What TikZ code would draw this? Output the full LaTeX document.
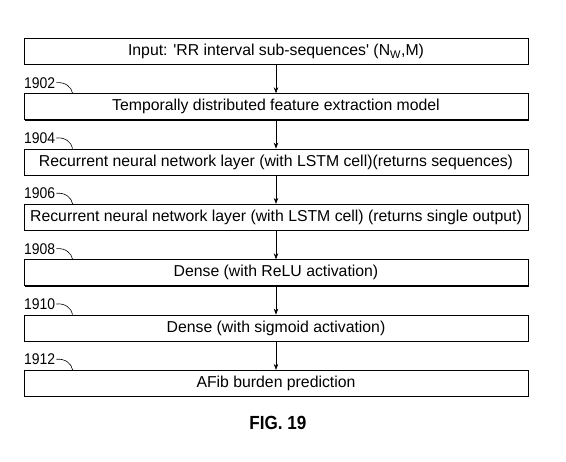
\documentclass[tikz,border=0pt]{standalone}
\usepackage{fontspec}
\setmainfont{Liberation Sans}
\newfontfamily\narrowsans{Liberation Sans}[FakeStretch=0.9]
\usetikzlibrary{arrows.meta,shadows}

\tikzset{
  layerbox/.style={draw, fill=white, line width=0.8pt, minimum width=504pt,
    minimum height=26pt, inner sep=0pt, font=\fontsize{15.8}{17}\selectfont,
    drop shadow={shadow xshift=1.2pt, shadow yshift=-1.2pt, opacity=1, fill=black}},
  refnum/.style={anchor=west, inner sep=0pt, font=\narrowsans\fontsize{15.5}{17}\selectfont},
  flow/.style={-{Stealth[length=6pt,width=4.5pt]}, line width=0.6pt},
  hook/.style={line width=0.6pt},
}

\begin{document}
\begin{tikzpicture}[x=1pt,y=-1pt]
\useasboundingbox (0,0) rectangle (566,462);
%%   layers, top to bottom
    \node[layerbox] (inputbox) at (276, 51.3) {Input: \textquotesingle RR interval sub-sequences\textquotesingle\ (N\textsubscript{W},M)};
    \node[layerbox] (featbox) at (276, 106.7) {Temporally distributed feature extraction model};
    \node[layerbox] (lstmseq) at (276, 162.0) {Recurrent neural network layer (with LSTM cell)(returns sequences)};
    \node[layerbox] (lstmone) at (276, 217.3) {Recurrent neural network layer (with LSTM cell) (returns single output)};
    \node[layerbox] (denserelu) at (276, 272.7) {Dense (with ReLU activation)};
    \node[layerbox] (densesig) at (276, 328.0) {Dense (with sigmoid activation)};
    \node[layerbox] (afib) at (276, 383.3) {AFib burden prediction};
%%   reference numerals
    \node[refnum] (r1902) at (24, 82.7) {1902};
    \node[refnum] (r1904) at (24, 138.0) {1904};
    \node[refnum] (r1906) at (24, 193.3) {1906};
    \node[refnum] (r1908) at (24, 248.7) {1908};
    \node[refnum] (r1910) at (24, 304.0) {1910};
    \node[refnum] (r1912) at (24, 359.3) {1912};
    \draw[hook] ([xshift=1pt]r1902.east) .. controls +(9,-1) and +(-1,-6) .. ([xshift=49pt]featbox.north west);
    \draw[hook] ([xshift=1pt]r1904.east) .. controls +(9,-1) and +(-1,-6) .. ([xshift=49pt]lstmseq.north west);
    \draw[hook] ([xshift=1pt]r1906.east) .. controls +(9,-1) and +(-1,-6) .. ([xshift=49pt]lstmone.north west);
    \draw[hook] ([xshift=1pt]r1908.east) .. controls +(9,-1) and +(-1,-6) .. ([xshift=49pt]denserelu.north west);
    \draw[hook] ([xshift=1pt]r1910.east) .. controls +(9,-1) and +(-1,-6) .. ([xshift=49pt]densesig.north west);
    \draw[hook] ([xshift=1pt]r1912.east) .. controls +(9,-1) and +(-1,-6) .. ([xshift=49pt]afib.north west);
%%   flow
    \draw[flow] (inputbox.south) -- (featbox.north);
    \draw[flow] (featbox.south) -- (lstmseq.north);
    \draw[flow] (lstmseq.south) -- (lstmone.north);
    \draw[flow] (lstmone.south) -- (denserelu.north);
    \draw[flow] (denserelu.south) -- (densesig.north);
    \draw[flow] (densesig.south) -- (afib.north);
%%   caption
    \node[font=\narrowsans\bfseries\fontsize{19}{21}\selectfont] (figcap) at (278, 423) {FIG. 19};
\end{tikzpicture}
\end{document}
